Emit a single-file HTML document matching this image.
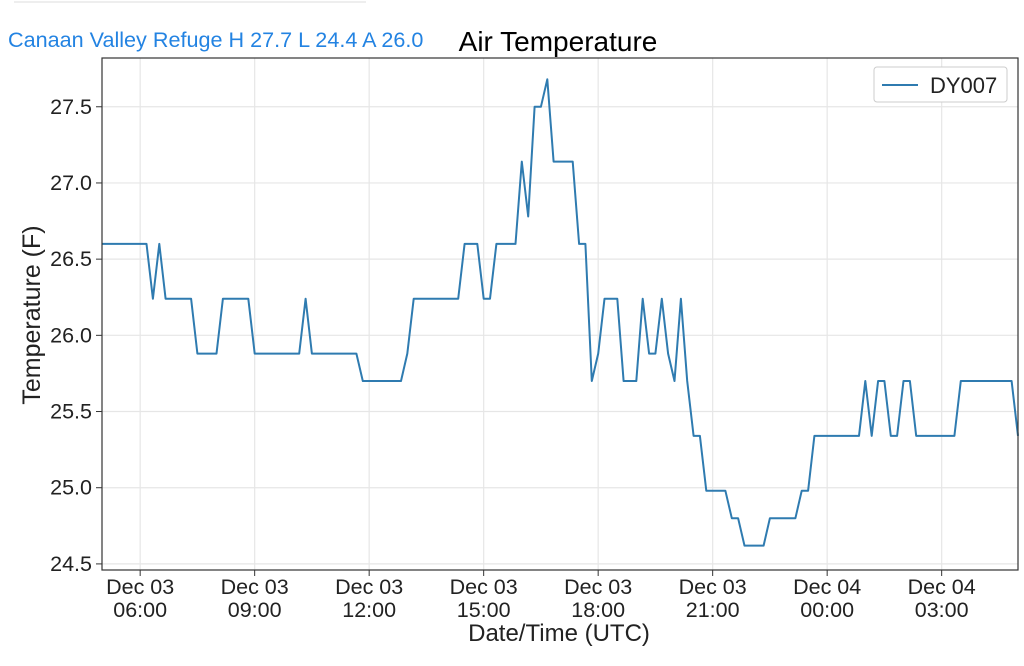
<!DOCTYPE html>
<html><head><meta charset="utf-8"><style>
body{margin:0;background:#fff;width:1024px;height:661px;overflow:hidden;font-family:"Liberation Sans",sans-serif}
</style></head><body>
<svg id="chart" width="1024" height="661" xmlns="http://www.w3.org/2000/svg" font-family="Liberation Sans, sans-serif">
<line x1="14" y1="2" x2="366" y2="2" stroke="#eee" stroke-width="2"/>
<text x="8" y="47" font-size="21.6" fill="#2383e2">Canaan Valley Refuge H 27.7 L 24.4 A 26.0</text>
<text x="558" y="51" font-size="28" text-anchor="middle" fill="#000">Air Temperature</text>
<g id="grid"></g>
<g id="series"></g>
<rect x="102" y="58" width="916" height="512" fill="none" stroke="#333" stroke-width="1.2"/>
<g id="axes" font-size="21.5" fill="#222"></g>
<text x="559" y="641" font-size="24" text-anchor="middle" fill="#222">Date/Time (UTC)</text>
<text transform="translate(40,315) rotate(-90)" font-size="25" text-anchor="middle" fill="#222">Temperature (F)</text>
<g>
<rect x="874" y="67" width="133" height="35" rx="3" fill="#fff" stroke="#ccc"/>
<line x1="882" y1="85" x2="918" y2="85" stroke="#2f7bb0" stroke-width="2"/>
<text x="930" y="93" font-size="22" fill="#222">DY007</text>
</g>
</svg>
<script>
const yTicks=[24.5,25.0,25.5,26.0,26.5,27.0,27.5];
const xTickHours=[1,4,7,10,13,16,19,22];
const xTickDates=["Dec 03","Dec 03","Dec 03","Dec 03","Dec 03","Dec 03","Dec 04","Dec 04"];
const xTickTimes=["06:00","09:00","12:00","15:00","18:00","21:00","00:00","03:00"];
// 10-minute samples from Dec 03 05:00 UTC
const temps=[26.6,26.6,26.6,26.6,26.6,26.6,26.6,26.6,26.24,26.6,
26.24,26.24,26.24,26.24,26.24,25.88,25.88,25.88,25.88,26.24,
26.24,26.24,26.24,26.24,25.88,25.88,25.88,25.88,25.88,25.88,
25.88,25.88,26.24,25.88,25.88,25.88,25.88,25.88,25.88,25.88,
25.88,25.7,25.7,25.7,25.7,25.7,25.7,25.7,25.88,26.24,
26.24,26.24,26.24,26.24,26.24,26.24,26.24,26.6,26.6,26.6,
26.24,26.24,26.6,26.6,26.6,26.6,27.14,26.78,27.5,27.5,
27.68,27.14,27.14,27.14,27.14,26.6,26.6,25.7,25.88,26.24,
26.24,26.24,25.7,25.7,25.7,26.24,25.88,25.88,26.24,25.88,
25.7,26.24,25.7,25.34,25.34,24.98,24.98,24.98,24.98,24.8,
24.8,24.62,24.62,24.62,24.62,24.8,24.8,24.8,24.8,24.8,
24.98,24.98,25.34,25.34,25.34,25.34,25.34,25.34,25.34,25.34,
25.7,25.34,25.7,25.7,25.34,25.34,25.7,25.7,25.34,25.34,
25.34,25.34,25.34,25.34,25.34,25.7,25.7,25.7,25.7,25.7,
25.7,25.7,25.7,25.7,25.34];
const X0=102,X1=1018,Y0=58,Y1=570,H0=0,H1=24,V0=24.46,V1=27.82;
const xs=h=>X0+(h-H0)/(H1-H0)*(X1-X0);
const ys=v=>Y1-(v-V0)/(V1-V0)*(Y1-Y0);
const NS="http://www.w3.org/2000/svg";
const mk=(t,a,p)=>{const e=document.createElementNS(NS,t);for(const k in a)e.setAttribute(k,a[k]);p.appendChild(e);return e;};
const grid=document.getElementById('grid'),axes=document.getElementById('axes'),ser=document.getElementById('series');
yTicks.forEach(v=>{
 const y=ys(v);
 const g=mk('line',{x1:X0,x2:X1,y1:y,y2:y,stroke:'#e6e6e6','stroke-width':1.2},grid);
 
 
 const tk=mk('line',{x1:X0-6,x2:X0,y1:y,y2:y,stroke:'#333'},axes);
 
 
 const t=mk('text',{x:X0-10,y:y+7,'text-anchor':'end'},axes);
 
 
 t.textContent=v.toFixed(1);
});
xTickHours.forEach((h,i)=>{
 const x=xs(h);
 const g=mk('line',{x1:x,x2:x,y1:Y0,y2:Y1,stroke:'#e6e6e6','stroke-width':1.2},grid);
 
 
 const tk=mk('line',{x1:x,x2:x,y1:Y1,y2:Y1+6,stroke:'#333'},axes);
 
 
 const t=mk('text',{x:x,y:594,'text-anchor':'middle'},axes);
 
 
 t.textContent=xTickDates[i];
 const t2=mk('text',{x:x,y:617,'text-anchor':'middle'},axes);
 
 
 t2.textContent=xTickTimes[i];
});
const pts=temps.map((v,i)=>xs(i/6).toFixed(1)+','+ys(v).toFixed(1)).join(' ');
const line=mk('polyline',{points:pts,fill:'none',stroke:'#2f7bb0','stroke-width':2,'stroke-linejoin':'round'},ser);


</script>
</body></html>
